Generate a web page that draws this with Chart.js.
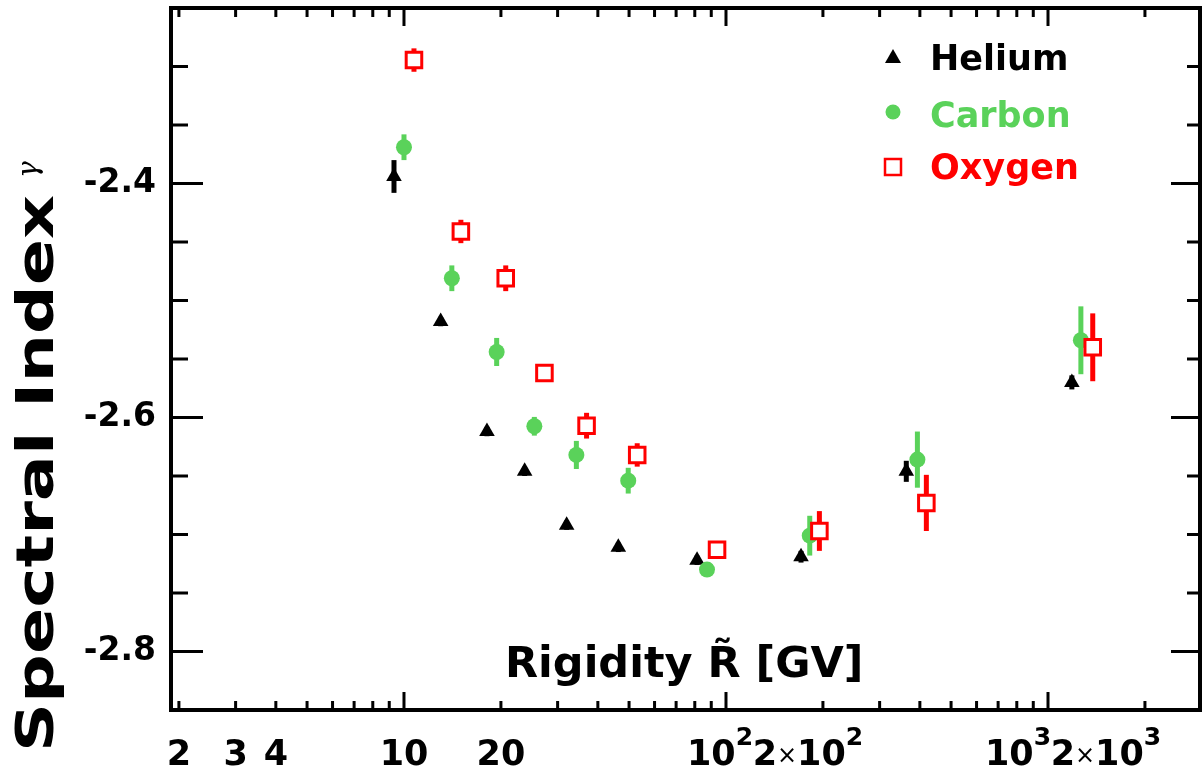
<!DOCTYPE html>
<html>
<head>
<meta charset="utf-8">
<script src="https://cdn.jsdelivr.net/npm/chart.js@4.4.1/dist/chart.umd.min.js"></script>
<style>
    html, body { margin: 0; padding: 0; background: #fff; }
    #wrap { width: 1203px; height: 770px; }
</style>
</head>
<body>
<div id="wrap"><canvas id="spectralChart" width="1203" height="770"></canvas></div>
<script>
// rigidity (GV) and spectral index
const heliumR = [9.31, 13.0, 18.1, 23.7, 32.0, 46.3, 81.3, 171, 363, 1186];
const heliumGamma = [-2.394, -2.518, -2.612, -2.646, -2.692, -2.711, -2.722, -2.719, -2.646, -2.570];
const heliumErr = [0.014, 0.004, 0.004, 0.004, 0.004, 0.004, 0.004, 0.005, 0.009, 0.006];

const carbonR = [10.0, 14.08, 19.4, 25.4, 34.3, 49.7, 87.3, 182, 393, 1265];
const carbonGamma = [-2.369, -2.481, -2.544, -2.6075, -2.632, -2.654, -2.730, -2.701, -2.636, -2.534];
const carbonErr = [0.011, 0.011, 0.012, 0.008, 0.012, 0.011, 0.005, 0.017, 0.024, 0.029];

const oxygenR = [10.74, 15.02, 20.7, 27.3, 36.9, 53.0, 93.8, 195, 419, 1377];
const oxygenGamma = [-2.2945, -2.441, -2.481, -2.562, -2.607, -2.632, -2.713, -2.697, -2.673, -2.540];
const oxygenErr = [0.010, 0.010, 0.011, 0.006, 0.011, 0.010, 0.006, 0.017, 0.024, 0.029];

// x tick labels: mantissa, power of ten (empty for plain numbers)
const xTickValues = [2, 3, 4, 10, 20, 100, 200, 1000, 2000];
const xTickBase = ['2', '3', '4', '10', '20', '', '2', '', '2'];
const xTickPower = ['', '', '', '', '', '2', '2', '3', '3'];
const yTickValues = [-2.8, -2.6, -2.4];
const yTickLabels = ['-2.8', '-2.6', '-2.4'];

const FONT = "'DejaVu Sans', 'Liberation Sans', sans-serif";
const BLACK = '#000000';
const GREEN = '#5ad25a';
const RED = '#ff0000';

// the power labels sit a little left of their ticks in the original
const xLabelNudge = [0, 0, 0, 0, 0, -6, -15, -30, -39];

const toPoints = (xs, ys) => xs.map((x, i) => ({ x: x, y: ys[i] }));

// vertical error bars, drawn under the markers
const errorBarPlugin = {
    id: 'errorBars',
    beforeDatasetsDraw(chart) {
        const { ctx, scales: { x, y } } = chart;
        ctx.save();
        ctx.lineCap = 'butt';
        chart.data.datasets.slice().reverse().forEach(ds => {
            ctx.strokeStyle = ds.pointBorderColor;
            ctx.lineWidth = ds.errorWidth;
            ds.data.forEach((p, i) => {
                const px = x.getPixelForValue(p.x);
                ctx.beginPath();
                ctx.moveTo(px, y.getPixelForValue(p.y - ds.errors[i]));
                ctx.lineTo(px, y.getPixelForValue(p.y + ds.errors[i]));
                ctx.stroke();
            });
        });
        ctx.restore();
    }
};

// closed frame with inward ticks on all four sides
const framePlugin = {
    id: 'frame',
    afterDatasetsDraw(chart) {
        const { ctx, chartArea: a, scales: { x, y } } = chart;
        ctx.save();
        ctx.strokeStyle = BLACK;
        ctx.lineWidth = 3;
        ctx.beginPath();
        for (let dec = 1; dec <= 1000; dec *= 10) {
            for (let m = 1; m <= 9; m++) {
                const v = m * dec;
                if (v < x.min || v > x.max) continue;
                const px = x.getPixelForValue(v);
                const len = m === 1 ? 18 : 9;
                ctx.moveTo(px, a.bottom); ctx.lineTo(px, a.bottom - len);
                ctx.moveTo(px, a.top); ctx.lineTo(px, a.top + len);
            }
        }
        for (let v = -2.85; v <= -2.25 + 1e-9; v += 0.05) {
            const py = y.getPixelForValue(v);
            const major = Math.abs(Math.round(v * 5) - v * 5) < 1e-6;
            ctx.moveTo(a.left, py); ctx.lineTo(a.left + (major ? 32 : 17), py);
            ctx.moveTo(a.right, py); ctx.lineTo(a.right - (major ? 29 : 13), py);
        }
        ctx.stroke();
        ctx.lineWidth = 4;
        ctx.strokeRect(a.left, a.top, a.right - a.left, a.bottom - a.top);
        ctx.restore();
    }
};

// x tick labels with raised powers of ten
const xLabelPlugin = {
    id: 'xLabels',
    afterDraw(chart) {
        const { ctx, chartArea: a, scales: { x } } = chart;
        const baseFont = 'bold 35px ' + FONT;
        const supFont = 'bold 25px ' + FONT;
        const timesFont = '24px ' + FONT;
        const baseline = a.bottom + 55;
        ctx.save();
        ctx.fillStyle = BLACK;
        ctx.textBaseline = 'alphabetic';
        ctx.textAlign = 'left';
        xTickValues.forEach((v, i) => {
            const parts = [];
            if (xTickPower[i] === '') {
                parts.push({ t: xTickBase[i], f: baseFont, dy: 0 });
            } else {
                if (xTickBase[i] !== '') {
                    parts.push({ t: xTickBase[i], f: baseFont, dy: 0 });
                    parts.push({ t: '×', f: timesFont, dy: -2 });
                }
                parts.push({ t: '10', f: baseFont, dy: 0 });
                parts.push({ t: xTickPower[i], f: supFont, dy: -20 });
            }
            let w = 0;
            parts.forEach(p => { ctx.font = p.f; p.w = ctx.measureText(p.t).width; w += p.w; });
            let cx = x.getPixelForValue(v) + xLabelNudge[i] - w / 2;
            parts.forEach(p => {
                ctx.font = p.f;
                ctx.fillText(p.t, cx, baseline + p.dy);
                cx += p.w;
            });
        });
        ctx.restore();
    }
};

// legend box in the upper right corner
const legendPlugin = {
    id: 'cornerLegend',
    afterDraw(chart) {
        const { ctx, chartArea: a } = chart;
        const mx = a.right - 307;
        const tx = a.right - 270;
        ctx.save();
        ctx.font = 'bold 35px ' + FONT;
        ctx.textBaseline = 'alphabetic';

        ctx.fillStyle = BLACK;
        ctx.beginPath();
        ctx.moveTo(mx, 49); ctx.lineTo(mx + 8, 63); ctx.lineTo(mx - 8, 63);
        ctx.closePath(); ctx.fill();
        ctx.fillText('Helium', tx, 70);

        ctx.fillStyle = GREEN;
        ctx.beginPath(); ctx.arc(mx, 112, 7.5, 0, Math.PI * 2); ctx.fill();
        ctx.fillText('Carbon', tx, 127);

        ctx.strokeStyle = RED;
        ctx.lineWidth = 2.5;
        ctx.strokeRect(mx - 8, 159, 16, 16);
        ctx.fillStyle = RED;
        ctx.fillText('Oxygen', tx, 179);
        ctx.restore();
    }
};

// axis titles: x title sits inside the frame, y title ends in a thin gamma
const titlePlugin = {
    id: 'axisTitles',
    afterDraw(chart) {
        const { ctx, chartArea: a } = chart;
        ctx.save();
        ctx.fillStyle = BLACK;
        ctx.textBaseline = 'alphabetic';
        ctx.font = 'bold 43px ' + FONT;
        ctx.fillText('Rigidity R\u0303 [GV]', 505, a.bottom - 33);

        ctx.translate(53, 752);
        ctx.rotate(-Math.PI / 2);
        ctx.font = 'bold 51px ' + FONT;
        const label = 'Spectral Index';
        const natural = ctx.measureText(label).width;
        const span = 557;
        ctx.save();
        ctx.scale(span / natural, 1);
        ctx.fillText(label, 0, 0);
        ctx.restore();
        ctx.font = 'italic 28px "DejaVu Serif", serif';
        ctx.fillText('γ', span + 17, -16);
        ctx.restore();
    }
};

const ctx = document.getElementById('spectralChart').getContext('2d');
new Chart(ctx, {
    type: 'scatter',
    data: {
        datasets: [
            {
                label: 'Oxygen',
                data: toPoints(oxygenR, oxygenGamma),
                errors: oxygenErr,
                errorWidth: 5,
                pointStyle: 'rect',
                pointRadius: 11,
                pointBackgroundColor: '#ffffff',
                pointBorderColor: RED,
                pointBorderWidth: 3,
                order: 0
            },
            {
                label: 'Carbon',
                data: toPoints(carbonR, carbonGamma),
                errors: carbonErr,
                errorWidth: 5,
                pointStyle: 'circle',
                pointRadius: 8,
                pointBackgroundColor: GREEN,
                pointBorderColor: GREEN,
                pointBorderWidth: 0,
                order: 1
            },
            {
                label: 'Helium',
                data: toPoints(heliumR, heliumGamma),
                errors: heliumErr,
                errorWidth: 5,
                pointStyle: 'triangle',
                pointRadius: 9,
                pointBackgroundColor: BLACK,
                pointBorderColor: BLACK,
                pointBorderWidth: 0,
                order: 2
            }
        ]
    },
    options: {
        responsive: false,
        animation: false,
        layout: { autoPadding: false, padding: { top: 8, right: 3, left: 0, bottom: 0 } },
        plugins: {
            legend: { display: false },
            tooltip: { enabled: false }
        },
        scales: {
            x: {
                type: 'logarithmic',
                min: 1.89,
                max: 2965,
                grid: { display: false, drawTicks: false },
                border: { display: false },
                ticks: { display: false },
                afterFit: scale => {
                    scale.height = 60;
                    scale.paddingLeft = 0;
                    scale.paddingRight = 0;
                }
            },
            y: {
                min: -2.85,
                max: -2.25,
                grid: { display: false, drawTicks: false },
                border: { display: false },
                afterBuildTicks: scale => {
                    scale.ticks = yTickValues.map(v => ({ value: v }));
                },
                afterFit: scale => {
                    scale.width = 171;
                    scale.paddingTop = 0;
                    scale.paddingBottom = 0;
                },
                ticks: {
                    padding: 15,
                    color: BLACK,
                    font: { family: FONT, size: 33, weight: 'bold' },
                    callback: value => yTickLabels[yTickValues.indexOf(value)]
                }
            }
        }
    },
    plugins: [errorBarPlugin, framePlugin, xLabelPlugin, legendPlugin, titlePlugin]
});
</script>
</body>
</html>
